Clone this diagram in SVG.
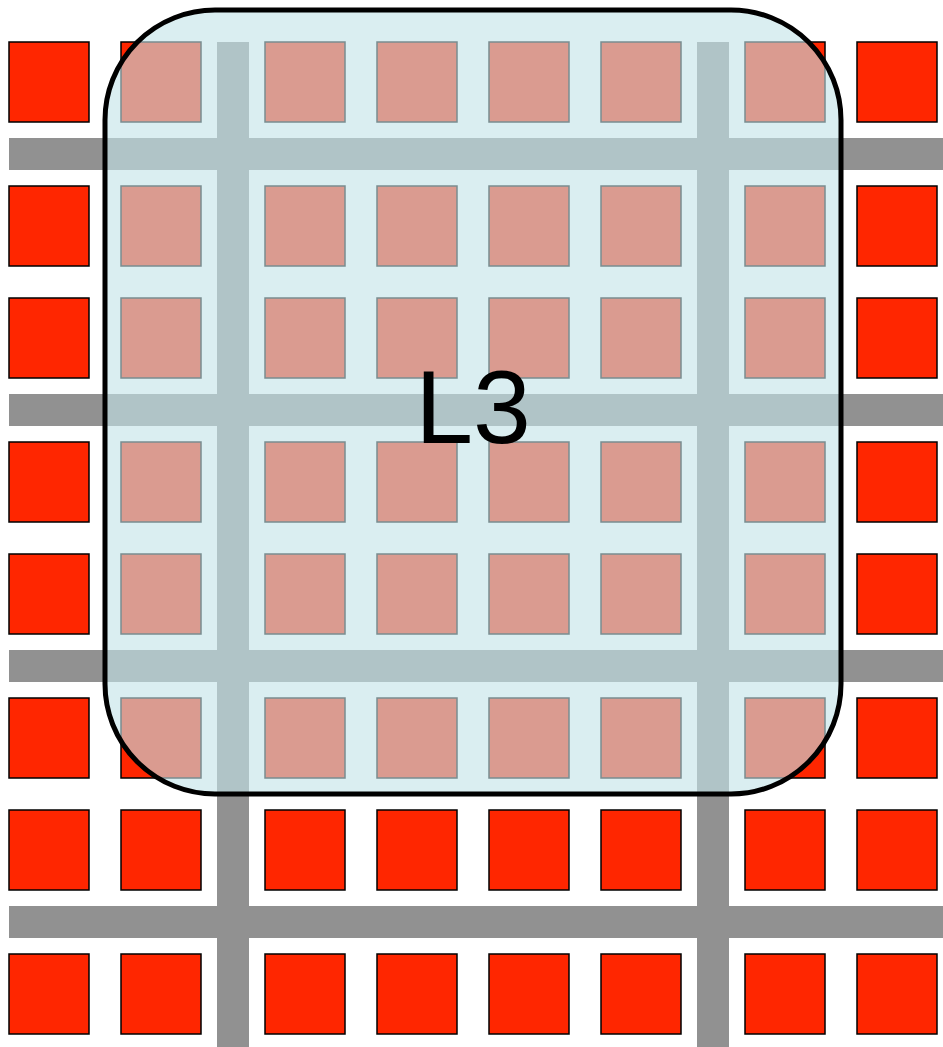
<svg xmlns="http://www.w3.org/2000/svg" width="943" height="1047" viewBox="0 0 943 1047">
<style>
.sq{fill:#ff2600;stroke:#000;stroke-width:1.5}
.bar{fill:#919191}
.lbl{font-family:"Liberation Sans",Arial,sans-serif;font-size:104px;fill:#000}
</style>
<defs>
<rect id="s" class="sq" width="80" height="80"/>
</defs>
<rect width="943" height="1047" fill="#fff"/>
<g id="bars">
<rect class="bar" x="9" y="138" width="934" height="32"/>
<rect class="bar" x="9" y="394" width="934" height="32"/>
<rect class="bar" x="9" y="650" width="934" height="32"/>
<rect class="bar" x="9" y="906" width="934" height="32"/>
<rect class="bar" x="217" y="42" width="32" height="1005"/>
<rect class="bar" x="697" y="42" width="32" height="1005"/>
</g>
<g id="cells">
<g id="row1"><use href="#s" x="9" y="42"/><use href="#s" x="121" y="42"/><use href="#s" x="265" y="42"/><use href="#s" x="377" y="42"/><use href="#s" x="489" y="42"/><use href="#s" x="601" y="42"/><use href="#s" x="745" y="42"/><use href="#s" x="857" y="42"/></g>
<g id="row2"><use href="#s" x="9" y="186"/><use href="#s" x="121" y="186"/><use href="#s" x="265" y="186"/><use href="#s" x="377" y="186"/><use href="#s" x="489" y="186"/><use href="#s" x="601" y="186"/><use href="#s" x="745" y="186"/><use href="#s" x="857" y="186"/></g>
<g id="row3"><use href="#s" x="9" y="298"/><use href="#s" x="121" y="298"/><use href="#s" x="265" y="298"/><use href="#s" x="377" y="298"/><use href="#s" x="489" y="298"/><use href="#s" x="601" y="298"/><use href="#s" x="745" y="298"/><use href="#s" x="857" y="298"/></g>
<g id="row4"><use href="#s" x="9" y="442"/><use href="#s" x="121" y="442"/><use href="#s" x="265" y="442"/><use href="#s" x="377" y="442"/><use href="#s" x="489" y="442"/><use href="#s" x="601" y="442"/><use href="#s" x="745" y="442"/><use href="#s" x="857" y="442"/></g>
<g id="row5"><use href="#s" x="9" y="554"/><use href="#s" x="121" y="554"/><use href="#s" x="265" y="554"/><use href="#s" x="377" y="554"/><use href="#s" x="489" y="554"/><use href="#s" x="601" y="554"/><use href="#s" x="745" y="554"/><use href="#s" x="857" y="554"/></g>
<g id="row6"><use href="#s" x="9" y="698"/><use href="#s" x="121" y="698"/><use href="#s" x="265" y="698"/><use href="#s" x="377" y="698"/><use href="#s" x="489" y="698"/><use href="#s" x="601" y="698"/><use href="#s" x="745" y="698"/><use href="#s" x="857" y="698"/></g>
<g id="row7"><use href="#s" x="9" y="810"/><use href="#s" x="121" y="810"/><use href="#s" x="265" y="810"/><use href="#s" x="377" y="810"/><use href="#s" x="489" y="810"/><use href="#s" x="601" y="810"/><use href="#s" x="745" y="810"/><use href="#s" x="857" y="810"/></g>
<g id="row8"><use href="#s" x="9" y="954"/><use href="#s" x="121" y="954"/><use href="#s" x="265" y="954"/><use href="#s" x="377" y="954"/><use href="#s" x="489" y="954"/><use href="#s" x="601" y="954"/><use href="#s" x="745" y="954"/><use href="#s" x="857" y="954"/></g>
</g>
<g id="L3">
<rect x="105" y="10" width="736" height="784" rx="110" ry="110" fill="#c4e3e9" fill-opacity="0.62" stroke="#000" stroke-width="5"/>
<text class="lbl" x="473" y="443" text-anchor="middle">L3</text>
</g>
</svg>
